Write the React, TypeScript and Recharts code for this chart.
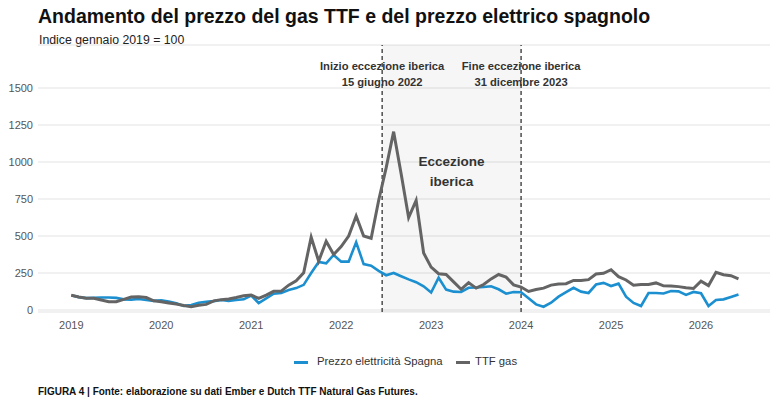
import { LineChart, Line, XAxis, YAxis, CartesianGrid, ReferenceArea, ReferenceLine } from 'recharts'

// monthly index, Jan 2019 = 100, from Jan 2019 to Jun 2026
const firstYear = 2019

const electricity = [
  100, 87, 80, 82, 84, 84, 82, 72, 70, 74, 68, 62,
  66, 58, 45, 28, 34, 49, 56, 60, 68, 62, 68, 72,
  97, 47, 78, 110, 115, 135, 148, 170, 250, 325, 315, 372,
  327, 327, 458, 310, 300, 265, 235, 250, 228, 207, 188, 160,
  118, 218, 138, 124, 122, 150, 152, 155, 160, 140, 110, 122,
  120, 79, 38, 22, 49, 90, 120, 150, 124, 115, 172, 183,
  162, 178, 90, 48, 27, 115, 115, 112, 128, 126, 102, 122,
  113, 27, 68, 72, 88, 105,
]

const ttfGas = [
  100, 88, 79, 79, 68, 56, 56, 72, 88, 90, 84, 62,
  56, 48, 40, 30, 22, 32, 38, 62, 70, 74, 84, 96,
  101, 79, 100, 126, 128, 168, 198, 252, 492, 330, 465, 375,
  428, 500, 635, 500, 485, 740, 960, 1205, 920, 625, 740, 385,
  290, 245, 240, 190, 140, 185, 148, 172, 210, 240, 222, 170,
  155, 125, 138, 148, 168, 175, 178, 200, 200, 205, 243, 248,
  272, 225, 203, 168, 172, 172, 183, 163, 162, 158, 150, 145,
  195, 165, 255, 238, 232, 210,
]

const yearTicks = [2019, 2020, 2021, 2022, 2023, 2024, 2025, 2026]
const valueTicks = [0, 250, 500, 750, 1000, 1250, 1500]

// 15 giugno 2022 and 31 dicembre 2023 as fractional years
const exceptionStart = 2022 + (5 + 14 / 30) / 12
const exceptionEnd = 2024

const data = electricity.map((v, i) => ({
  t: firstYear + i / 12,
  elec: v,
  gas: ttfGas[i],
}))

const FONT = '"Liberation Sans", Arial, sans-serif'
const BLUE = '#1b8fcf'
const GREY = '#646464'

const lineNote = (first: string, second: string) => (props: any) => {
  const { viewBox } = props
  const x = viewBox.x
  const y = viewBox.y
  return (
    <g fontFamily={FONT} fontSize={11.2} fontWeight="bold" fill="#333" textAnchor="middle">
      <text x={x} y={y + 25}>{first}</text>
      <text x={x} y={y + 41}>{second}</text>
    </g>
  )
}

const areaNote = (props: any) => {
  const { viewBox } = props
  const x = viewBox.x + viewBox.width / 2
  const y = viewBox.y
  return (
    <g fontFamily={FONT} fontSize={13.5} fontWeight="bold" fill="#333" textAnchor="middle">
      <text x={x} y={y + 121}>Eccezione</text>
      <text x={x} y={y + 141}>iberica</text>
    </g>
  )
}

export default function App() {
  return (
    <div style={{ position: 'absolute', left: 0, top: 0, width: 780, height: 405, background: '#fff', fontFamily: FONT }}>
      <div style={{ position: 'absolute', left: 38, top: 5, fontSize: 19.5, fontWeight: 'bold', color: '#111', whiteSpace: 'nowrap' }}>
        Andamento del prezzo del gas TTF e del prezzo elettrico spagnolo
      </div>
      <div style={{ position: 'absolute', left: 39, top: 33, fontSize: 12.3, color: '#222', whiteSpace: 'nowrap' }}>
        Indice gennaio 2019 = 100
      </div>

      <div style={{ position: 'absolute', left: 0, top: 0 }}>
        <LineChart width={780} height={405} data={data} margin={{ top: 45, right: 10, bottom: 63, left: 0 }}>
          <ReferenceArea
            x1={exceptionStart}
            x2={exceptionEnd}
            fill="#000"
            fillOpacity={0.035}
            stroke="none"
            label={areaNote}
          />
          <CartesianGrid vertical={false} stroke="#e3e3e3" strokeWidth={1} />
          <XAxis
            dataKey="t"
            type="number"
            domain={[2018.63, 2026.767]}
            allowDataOverflow
            ticks={yearTicks}
            tickFormatter={(v: number) => String(Math.round(v))}
            axisLine={false}
            tickLine={false}
            tickSize={6}
            tickMargin={3}
            height={30}
            tick={{ fill: '#555', fontSize: 11, fontFamily: FONT }}
          />
          <YAxis
            type="number"
            domain={[-13.5, 1790.5]}
            allowDataOverflow
            ticks={valueTicks}
            axisLine={false}
            tickLine={false}
            tickSize={3}
            tickMargin={2}
            width={38}
            tick={{ fill: '#555', fontSize: 11, fontFamily: FONT }}
          />
          <ReferenceLine
            x={exceptionStart}
            stroke="#333"
            strokeWidth={1.3}
            strokeDasharray="4 3"
            label={lineNote('Inizio eccezione iberica', '15 giugno 2022')}
          />
          <ReferenceLine
            x={exceptionEnd}
            stroke="#333"
            strokeWidth={1.3}
            strokeDasharray="4 3"
            label={lineNote('Fine eccezione iberica', '31 dicembre 2023')}
          />
          <Line
            type="linear"
            dataKey="elec"
            stroke={BLUE}
            strokeWidth={2.6}
            dot={false}
            isAnimationActive={false}
          />
          <Line
            type="linear"
            dataKey="gas"
            stroke={GREY}
            strokeWidth={3}
            dot={false}
            isAnimationActive={false}
          />
        </LineChart>
      </div>

      {/* legend */}
      <div style={{ position: 'absolute', left: 294, top: 361, width: 14, height: 3, background: BLUE }} />
      <div style={{ position: 'absolute', left: 317, top: 355, fontSize: 11.3, color: '#333', whiteSpace: 'nowrap' }}>
        Prezzo elettricità Spagna
      </div>
      <div style={{ position: 'absolute', left: 456, top: 361, width: 14, height: 3, background: GREY }} />
      <div style={{ position: 'absolute', left: 475, top: 355, fontSize: 11.3, color: '#333', whiteSpace: 'nowrap' }}>
        TTF gas
      </div>

      <div style={{ position: 'absolute', left: 38, top: 386, fontSize: 10, fontWeight: 'bold', color: '#111', whiteSpace: 'nowrap' }}>
        FIGURA 4 | Fonte: elaborazione su dati Ember e Dutch TTF Natural Gas Futures.
      </div>
    </div>
  )
}
